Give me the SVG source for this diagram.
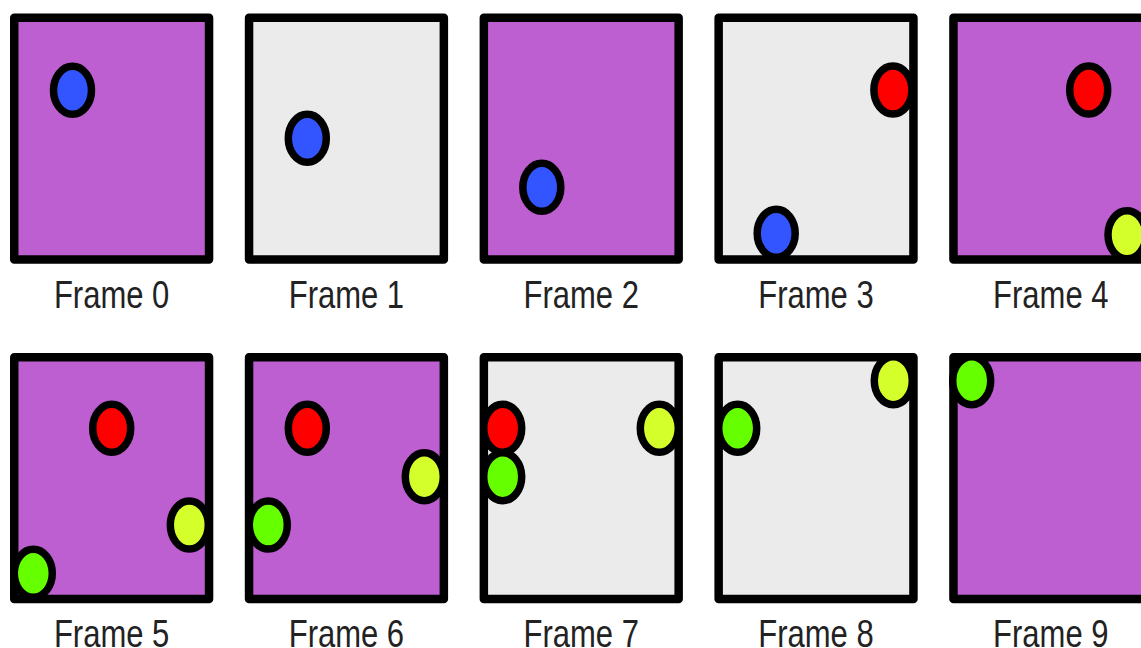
<svg xmlns="http://www.w3.org/2000/svg" width="1141" height="648" viewBox="0 0 1141 648">
<style>
.box{stroke:#000;stroke-width:8.5;stroke-linejoin:round}
.p{fill:#BD5FD0}
.g{fill:#EBEBEB}
.b{stroke:#000;stroke-width:7.5}
.blue{fill:#3355FF}
.red{fill:#FF0000}
.yel{fill:#D4FF2A}
.grn{fill:#66FF00}
.lbl{font-family:"Liberation Sans",Arial,sans-serif;font-size:31px;fill:#222;text-anchor:middle}
</style>
<rect width="1141" height="648" fill="#fff"/>
<g id="frame0" transform="translate(10,13.3)">
<rect class="box p" x="4.25" y="4.5" width="194.8" height="241.7"/>
<ellipse class="b blue" cx="62.5" cy="77" rx="19" ry="24"/>
<text class="lbl" transform="translate(101.6,294.4) scale(1,1.25)">Frame 0</text>
</g>
<g id="frame1" transform="translate(244.8,13.3)">
<rect class="box g" x="4.25" y="4.5" width="194.8" height="241.7"/>
<ellipse class="b blue" cx="62.5" cy="125" rx="19" ry="24"/>
<text class="lbl" transform="translate(101.6,294.4) scale(1,1.25)">Frame 1</text>
</g>
<g id="frame2" transform="translate(479.6,13.3)">
<rect class="box p" x="4.25" y="4.5" width="194.8" height="241.7"/>
<ellipse class="b blue" cx="62.2" cy="174" rx="19" ry="24"/>
<text class="lbl" transform="translate(101.6,294.4) scale(1,1.25)">Frame 2</text>
</g>
<g id="frame3" transform="translate(714.4,13.3)">
<rect class="box g" x="4.25" y="4.5" width="194.8" height="241.7"/>
<ellipse class="b red" cx="178.5" cy="76.7" rx="19" ry="24"/>
<ellipse class="b blue" cx="61.8" cy="220" rx="19" ry="24"/>
<text class="lbl" transform="translate(101.6,294.4) scale(1,1.25)">Frame 3</text>
</g>
<g id="frame4" transform="translate(949.2,13.3)">
<rect class="box p" x="4.25" y="4.5" width="194.8" height="241.7"/>
<ellipse class="b red" cx="139.5" cy="76.7" rx="19" ry="24"/>
<ellipse class="b yel" cx="177.8" cy="221.5" rx="19" ry="24"/>
<text class="lbl" transform="translate(101.6,294.4) scale(1,1.25)">Frame 4</text>
</g>
<g id="frame5" transform="translate(10,352.7)">
<rect class="box p" x="4.25" y="4.5" width="194.8" height="241.7"/>
<ellipse class="b red" cx="101.7" cy="75.6" rx="19" ry="24"/>
<ellipse class="b yel" cx="179.3" cy="172.3" rx="19" ry="24"/>
<ellipse class="b grn" cx="23.3" cy="220.6" rx="19" ry="24"/>
<text class="lbl" transform="translate(101.6,294) scale(1,1.25)">Frame 5</text>
</g>
<g id="frame6" transform="translate(244.8,352.7)">
<rect class="box p" x="4.25" y="4.5" width="194.8" height="241.7"/>
<ellipse class="b red" cx="62.5" cy="75.6" rx="19" ry="24"/>
<ellipse class="b yel" cx="179.5" cy="124" rx="19" ry="24"/>
<ellipse class="b grn" cx="23.5" cy="172.3" rx="19" ry="24"/>
<text class="lbl" transform="translate(101.6,294) scale(1,1.25)">Frame 6</text>
</g>
<g id="frame7" transform="translate(479.6,352.7)">
<rect class="box g" x="4.25" y="4.5" width="194.8" height="241.7"/>
<ellipse class="b red" cx="23.1" cy="75.6" rx="19" ry="24"/>
<ellipse class="b grn" cx="23.1" cy="124" rx="19" ry="24"/>
<ellipse class="b yel" cx="179.7" cy="75.6" rx="19" ry="24"/>
<text class="lbl" transform="translate(101.6,294) scale(1,1.25)">Frame 7</text>
</g>
<g id="frame8" transform="translate(714.4,352.7)">
<rect class="box g" x="4.25" y="4.5" width="194.8" height="241.7"/>
<ellipse class="b grn" cx="23.3" cy="75.6" rx="19" ry="24"/>
<ellipse class="b yel" cx="178.9" cy="28" rx="19" ry="24"/>
<text class="lbl" transform="translate(101.6,294) scale(1,1.25)">Frame 8</text>
</g>
<g id="frame9" transform="translate(949.2,352.7)">
<rect class="box p" x="4.25" y="4.5" width="194.8" height="241.7"/>
<ellipse class="b grn" cx="22.5" cy="28" rx="19" ry="24"/>
<text class="lbl" transform="translate(101.6,294) scale(1,1.25)">Frame 9</text>
</g>
<g id="connectors"/>
</svg>
